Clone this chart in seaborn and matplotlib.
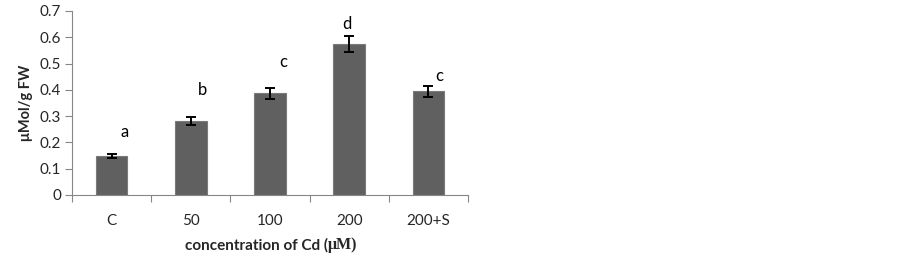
import matplotlib
matplotlib.use("Agg")
import matplotlib.pyplot as plt
import seaborn as sns
import pandas as pd
from matplotlib.ticker import FixedLocator

categories = ["C", "50", "100", "200", "200+S"]
values = [0.148, 0.281, 0.387, 0.573, 0.394]
errors = [0.007, 0.015, 0.020, 0.030, 0.021]
letters = ["a", "b", "c", "d", "c"]
letter_y = [0.24, 0.40, 0.505, 0.65, 0.452]
yticks = [0, 0.1, 0.2, 0.3, 0.4, 0.5, 0.6, 0.7]

sns.set_style("white")
plt.rcParams["font.family"] = ["Lato", "DejaVu Sans"]

df = pd.DataFrame({"cat": categories, "val": values})

fig = plt.figure(figsize=(9.02, 2.6), dpi=100)
ax = fig.add_axes([72/902, 1-195/260, (468-72)/902, (195-11)/260])

sns.barplot(data=df, x="cat", y="val", width=0.4, color="#606060",
            saturation=1, edgecolor="#7a7a7a", linewidth=0.8, ax=ax, errorbar=None)
ax.errorbar(range(len(values)), values, yerr=errors, fmt="none",
            ecolor="black", elinewidth=1.4, capsize=3.5, capthick=1.4)

for i, (l, y) in enumerate(zip(letters, letter_y)):
    off = [0.16, 0.15, 0.17, -0.03, 0.14][i]
    ax.text(i + off, y, l, ha="center", va="center", fontsize=12, color="black")

ax.set_xlim(-0.5, len(categories) - 0.5)
ax.set_ylim(0, 0.7)
ax.set_yticks(yticks)
ax.set_yticklabels(["0" if v == 0 else f"{v:.1f}" for v in yticks], fontsize=11)
ax.xaxis.set_minor_locator(FixedLocator([i - 0.5 for i in range(len(categories) + 1)]))
ax.tick_params(axis="x", which="major", length=0, pad=14, labelsize=11)
ax.tick_params(axis="x", which="minor", length=5, color="#868686", width=0.8, direction="out")
ax.tick_params(axis="y", length=5, color="#868686", width=0.8, direction="out", pad=3)
ax.xaxis.set_ticks_position("bottom")
ax.yaxis.set_ticks_position("left")
for s in ["top", "right"]:
    ax.spines[s].set_visible(False)
for s in ["left", "bottom"]:
    ax.spines[s].set_color("#868686")
    ax.spines[s].set_linewidth(0.8)

ax.set_xlabel("")
ax.set_ylabel("μMol/g FW", fontsize=10.5, fontweight="bold", labelpad=5)
split = 328/902
fig.text(split, 1-245/260, "concentration of Cd (", ha="right", va="center",
         fontsize=11, fontweight="bold")
fig.text(split, 1-245/260, "μM)", ha="left", va="center",
         fontsize=11.5, fontweight="bold", family=["Liberation Serif", "DejaVu Serif"])

fig.savefig("out.png", dpi=100)
